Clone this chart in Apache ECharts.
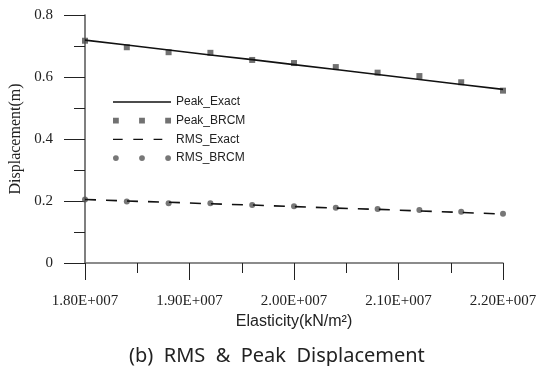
<!DOCTYPE html>
<html>
<head>
<meta charset="utf-8">
<script src="https://cdn.jsdelivr.net/npm/echarts@6/dist/echarts.min.js"></script>
<style>html,body{margin:0;padding:0;background:#fff;}#c{width:541px;height:366px;}</style>
</head>
<body>
<div id="c"></div>
<script>
const elasticity = [1.80e7, 1.84e7, 1.88e7, 1.92e7, 1.96e7, 2.00e7, 2.04e7, 2.08e7, 2.12e7, 2.16e7, 2.20e7];
const peakExact = [0.719, 0.703, 0.687, 0.671, 0.656, 0.640, 0.624, 0.608, 0.592, 0.576, 0.560];
const peakBRCM  = [0.717, 0.696, 0.680, 0.678, 0.655, 0.645, 0.632, 0.614, 0.603, 0.583, 0.556];
const rmsExact  = [0.205, 0.200, 0.196, 0.191, 0.187, 0.182, 0.177, 0.173, 0.168, 0.163, 0.158];
const rmsBRCM   = [0.205, 0.198, 0.193, 0.193, 0.187, 0.183, 0.178, 0.174, 0.171, 0.165, 0.159];
const xTickValues = [1.8e7, 1.9e7, 2.0e7, 2.1e7, 2.2e7];
const xTickLabels = ['1.80E+007', '1.90E+007', '2.00E+007', '2.10E+007', '2.20E+007'];
const yTickValues = [0, 0.2, 0.4, 0.6, 0.8];
const yTickLabels = ['0', '0.2', '0.4', '0.6', '0.8'];
const seriesNames = ['Peak_Exact', 'Peak_BRCM', 'RMS_Exact', 'RMS_BRCM'];

function pairs(xs, ys) { return xs.map((x, i) => [x, ys[i]]); }
function lookup(vals, labels, v) {
  for (let i = 0; i < vals.length; i++) if (Math.abs(vals[i] - v) < 1e-6 * Math.max(1, Math.abs(v))) return labels[i];
  return '';
}

const icons = {
  solid: 'path://M0 3.3h60v1.4h-60z',
  squares: 'path://M0 0h6v6h-6z M27 0h6v6h-6z M54 0h6v6h-6z',
  dashes: 'path://M0 2.3h10v1.4h-10z M21 2.3h10v1.4h-10z M42 2.3h9v1.4h-9z M59.98 2.99h0.02v0.02h-0.02z',
  circles: 'path://M0 3a3 3 0 1 0 6 0a3 3 0 1 0 -6 0z M27 3a3 3 0 1 0 6 0a3 3 0 1 0 -6 0z M54 3a3 3 0 1 0 6 0a3 3 0 1 0 -6 0z'
};

const chart = echarts.init(document.getElementById('c'), null, {renderer: 'canvas'});
chart.setOption({
  animation: false,
  backgroundColor: '#fff',
  title: {
    text: '(b)  RMS  &  Peak  Displacement',
    left: 124, top: 341,
    textStyle: {fontFamily: 'Noto Sans', fontSize: 20, fontWeight: 'normal', color: '#222'}
  },
  legend: {
    orient: 'vertical', left: 108, top: 91, padding: 5,
    itemWidth: 58, itemHeight: 8, itemGap: 6.7,
    textStyle: {fontFamily: 'Liberation Sans', fontSize: 12, color: '#222'},
    data: [
      {name: seriesNames[0], icon: icons.solid, itemStyle: {color: '#111', borderWidth: 0}},
      {name: seriesNames[1], icon: icons.squares, itemStyle: {color: '#4d4d4d', borderWidth: 0}},
      {name: seriesNames[2], icon: icons.dashes, itemStyle: {color: '#111', borderWidth: 0}},
      {name: seriesNames[3], icon: icons.circles, itemStyle: {color: '#555', borderWidth: 0}}
    ]
  },
  grid: {left: 85, right: 38, top: 15, bottom: 103, containLabel: false, outerBoundsMode: 'none'},
  xAxis: {
    type: 'value', min: 1.8e7, max: 2.2e7, interval: 1e6,
    name: 'Elasticity(kN/m\u00B2)', nameLocation: 'middle', nameGap: 47,
    nameTextStyle: {fontFamily: 'Liberation Sans', fontSize: 16, color: '#222'},
    axisLine: {show: true, lineStyle: {color: '#666', width: 1.5}},
    axisTick: {show: true, inside: false, length: 17, lineStyle: {color: '#222', width: 1}},
    minorTick: {show: true, splitNumber: 2, length: 10, lineStyle: {color: '#222', width: 1}},
    splitLine: {show: false},
    axisLabel: {
      margin: 31, fontFamily: 'Liberation Serif', fontSize: 15, color: '#222',
      formatter: v => lookup(xTickValues, xTickLabels, v)
    }
  },
  yAxis: {
    type: 'value', min: 0, max: 0.8, interval: 0.2,
    name: 'Displacement(m)', nameLocation: 'middle', nameGap: 50,
    nameTextStyle: {fontFamily: 'Liberation Serif', fontSize: 16, color: '#222'},
    axisLine: {show: true, lineStyle: {color: '#555', width: 1.5}},
    axisTick: {show: true, inside: false, length: 21, lineStyle: {color: '#222', width: 1}},
    minorTick: {show: true, splitNumber: 2, length: 11, lineStyle: {color: '#222', width: 1}},
    splitLine: {show: false},
    axisLabel: {
      margin: 32, fontFamily: 'Liberation Serif', fontSize: 15, color: '#222',
      formatter: v => lookup(yTickValues, yTickLabels, v)
    }
  },
  series: [
    {
      name: seriesNames[0], type: 'line', data: pairs(elasticity, peakExact),
      symbol: 'none', lineStyle: {color: '#111', width: 1.6}, itemStyle: {color: '#111'}, z: 3
    },
    {
      name: seriesNames[1], type: 'scatter', data: pairs(elasticity, peakBRCM),
      symbol: 'rect', symbolSize: 6, itemStyle: {color: '#4d4d4d'}, z: 2
    },
    {
      name: seriesNames[2], type: 'line', data: pairs(elasticity, rmsExact),
      symbol: 'none', lineStyle: {color: '#111', width: 1.6, type: [11, 10]}, itemStyle: {color: '#111'}, z: 3
    },
    {
      name: seriesNames[3], type: 'scatter', data: pairs(elasticity, rmsBRCM),
      symbol: 'circle', symbolSize: 6, itemStyle: {color: '#555'}, z: 2
    }
  ]
});
</script>
</body>
</html>
